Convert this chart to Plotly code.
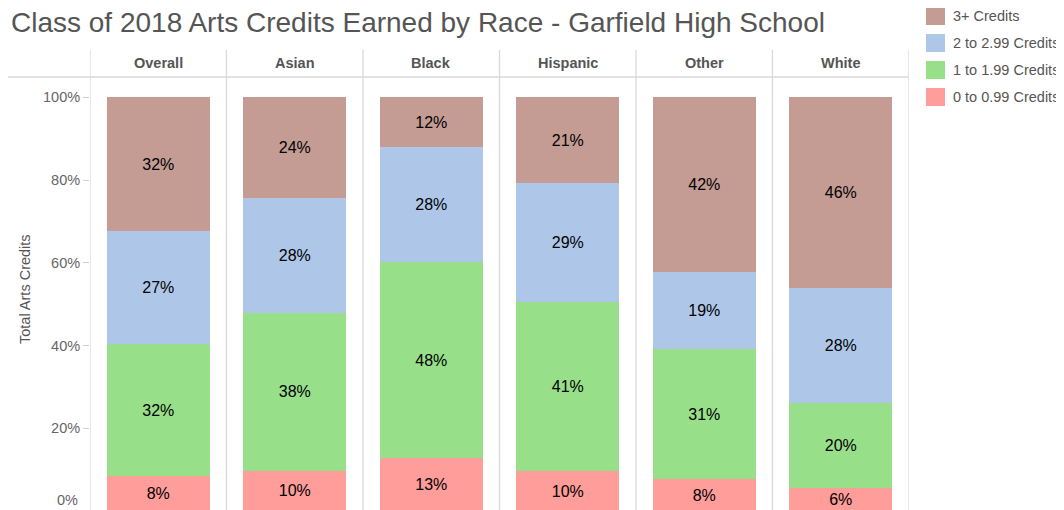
import plotly.graph_objects as go

races = ["Overall", "Asian", "Black", "Hispanic", "Other", "White"]
series_names = ["0 to 0.99 Credits", "1 to 1.99 Credits", "2 to 2.99 Credits", "3+ Credits"]
colors = ["#FF9D9A", "#98DF8A", "#AEC7E8", "#C49C94"]

credits_0 = [8.4, 9.7, 12.7, 9.6, 7.7, 5.6]
credits_1 = [32.0, 38.2, 47.6, 41.0, 31.4, 20.4]
credits_2 = [27.2, 27.8, 27.6, 28.7, 18.7, 27.8]
credits_3 = [32.4, 24.3, 12.1, 20.7, 42.2, 46.2]
all_series = [credits_0, credits_1, credits_2, credits_3]

y_ticks = [20, 40, 60, 80, 100]

FONT = "Liberation Sans, Arial, sans-serif"
OFF = 8  # page body margin in the browser
W, H = 1064 - OFF, 510 - OFF
L, R, T, B = 90 - OFF, 1064 - 909, 77 - OFF, 0
plot_h = H - T - B
plot_w = W - L - R


def px(page_x):
    return (page_x - OFF - L) / plot_w


def py(page_y):
    return (H - (page_y - OFF)) / plot_h


fig = go.Figure()
for name, vals, col in zip(series_names, all_series, colors):
    fig.add_trace(go.Bar(
        x=races, y=vals, name=name, marker=dict(color=col, line=dict(width=0)),
        texttemplate="%{y:.0f}%", textposition="inside", insidetextanchor="middle",
        textangle=0, textfont=dict(family=FONT, size=16, color="#000000"),
        showlegend=False, width=0.755, cliponaxis=True,
    ))

shapes = []
for i in range(len(races) + 1):
    shapes.append(dict(type="line", xref="x", yref="paper", x0=i - 0.5, x1=i - 0.5,
                       y0=0, y1=py(50), line=dict(color="#d9d9d9", width=1.3)))
shapes.append(dict(type="line", xref="paper", yref="paper", x0=px(8), x1=1,
                   y0=1, y1=1, line=dict(color="#d9d9d9", width=1.3)))

annotations = []
for i, r in enumerate(races):
    annotations.append(dict(x=i, xref="x", y=py(63), yref="paper",
                            text=f"<b>{r}</b>", showarrow=False,
                            font=dict(family=FONT, size=14.5, color="#555555"),
                            xanchor="center", yanchor="middle"))

annotations.append(dict(x=px(80), xref="paper", y=py(500), yref="paper",
                        text="0%", showarrow=False, xanchor="right", yanchor="middle",
                        font=dict(family=FONT, size=14.5, color="#666666")))

annotations.append(dict(x=px(25), xref="paper", y=py(289), yref="paper",
                        text="Total Arts Credits", textangle=-90, showarrow=False,
                        xanchor="center", yanchor="middle",
                        font=dict(family=FONT, size=14.5, color="#555555")))

annotations.append(dict(x=px(9), xref="paper", y=py(23), yref="paper",
                        text="Class of 2018 Arts Credits Earned by Race - Garfield High School",
                        showarrow=False, xanchor="left", yanchor="middle",
                        font=dict(family=FONT, size=28, color="#555555")))

legend_order = list(range(len(series_names)))[::-1]
for k, idx in enumerate(legend_order):
    cy = 16 + 27 * k
    shapes.append(dict(type="rect", xref="paper", yref="paper",
                       x0=px(926), x1=px(945), y0=py(cy + 9), y1=py(cy - 9),
                       fillcolor=colors[idx], line=dict(width=0)))
    annotations.append(dict(x=px(951), xref="paper", y=py(cy), yref="paper",
                            text=series_names[idx], showarrow=False, xanchor="left",
                            yanchor="middle", font=dict(family=FONT, size=14.5, color="#555555")))

y_lo = (511 - 510) / 4.137
y_hi = (511 - 77) / 4.137

fig.update_layout(
    width=W, height=H, barmode="stack",
    margin=dict(l=L, r=R, t=T, b=B, pad=0),
    paper_bgcolor="white", plot_bgcolor="white",
    shapes=shapes, annotations=annotations,
    uniformtext=dict(minsize=16, mode="show"),
    xaxis=dict(range=[-0.5, len(races) - 0.5], showticklabels=False, showgrid=False,
               zeroline=False, showline=False, ticks="", fixedrange=True),
    yaxis=dict(range=[y_lo, y_hi], tickvals=y_ticks, ticktext=[f"{v}%" for v in y_ticks],
               showgrid=False, zeroline=False, showline=False, ticks="outside",
               ticklen=6, tickcolor="#d0d0d0",
               tickfont=dict(family=FONT, size=14.5, color="#666666")),
    font=dict(family=FONT),
)

fig.write_html("out.html")
